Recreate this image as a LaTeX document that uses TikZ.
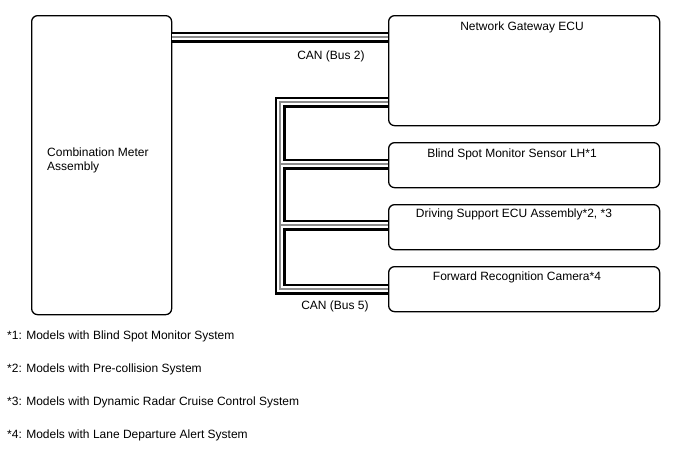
\documentclass[tikz,border=0pt]{standalone}
\usepackage{fontspec}
\setmainfont{Liberation Sans}
\begin{document}
\begin{tikzpicture}[x=1pt,y=-1pt,
  font=\fontsize{12}{14}\selectfont,
  box/.style={draw, line width=1.3pt, rounded corners=6pt, anchor=north west, inner sep=0pt},
  lbl/.style={inner sep=0pt, anchor=base},
  lbll/.style={inner sep=0pt, anchor=base west},
  busA/.style={line width=11pt, black, line join=miter},
  busB/.style={line width=6.5pt, white, line join=miter},
  busC/.style={line width=1.2pt, black!45, line join=miter}]
\useasboundingbox (0,0) rectangle (688,463);
% boxes
\node[box, minimum width=140pt, minimum height=299pt] (meter) at (31,15) {};
\node[box, minimum width=271pt, minimum height=110pt] (gw) at (388,15) {};
\node[box, minimum width=271pt, minimum height=45pt] (bs) at (388,142) {};
\node[box, minimum width=271pt, minimum height=45pt] (ds) at (388,204) {};
\node[box, minimum width=271pt, minimum height=45pt] (fr) at (388,266) {};
% labels
\node[lbl] (tgw) at (522,30) {Network Gateway ECU};
\node[lbl] (tbs) at (512,157) {Blind Spot Monitor Sensor LH*1};
\node[lbl] (tds) at (514,217) {Driving Support ECU Assembly*2, *3};
\node[lbl] (tfr) at (517,280) {Forward Recognition Camera*4};
\node[lbll] (tm1) at (47,156) {Combination Meter};
\node[lbll] (tm2) at (47,170) {Assembly};
\node[lbl] (tb2) at (331,59) {CAN (Bus 2)};
\node[lbl] (tb5) at (335,309) {CAN (Bus 5)};
\node[lbll] (n1) at (7,339) {*1: Models with Blind Spot Monitor System};
\node[lbll] (n2) at (7,372) {*2: Models with Pre-collision System};
\node[lbll] (n3) at (7,405) {*3: Models with Dynamic Radar Cruise Control System};
\node[lbll] (n4) at (7,438) {*4: Models with Lane Departure Alert System};
% bus coordinates
\coordinate (b2) at (171,37);
\coordinate (v1) at (280,102);
\coordinate (v2) at (280,164);
\coordinate (v3) at (280,225);
\coordinate (v4) at (280,289);
\foreach \s in {busA,busB,busC}{
  \draw[\s] (meter.east |- b2) -- (gw.west |- b2);
  \draw[\s] (gw.west |- v1) -- (v1) -- (v4) -- (fr.west |- v4);
  \draw[\s] (v2) -- (bs.west |- v2);
  \draw[\s] (v3) -- (ds.west |- v3);
}
\end{tikzpicture}
\end{document}
